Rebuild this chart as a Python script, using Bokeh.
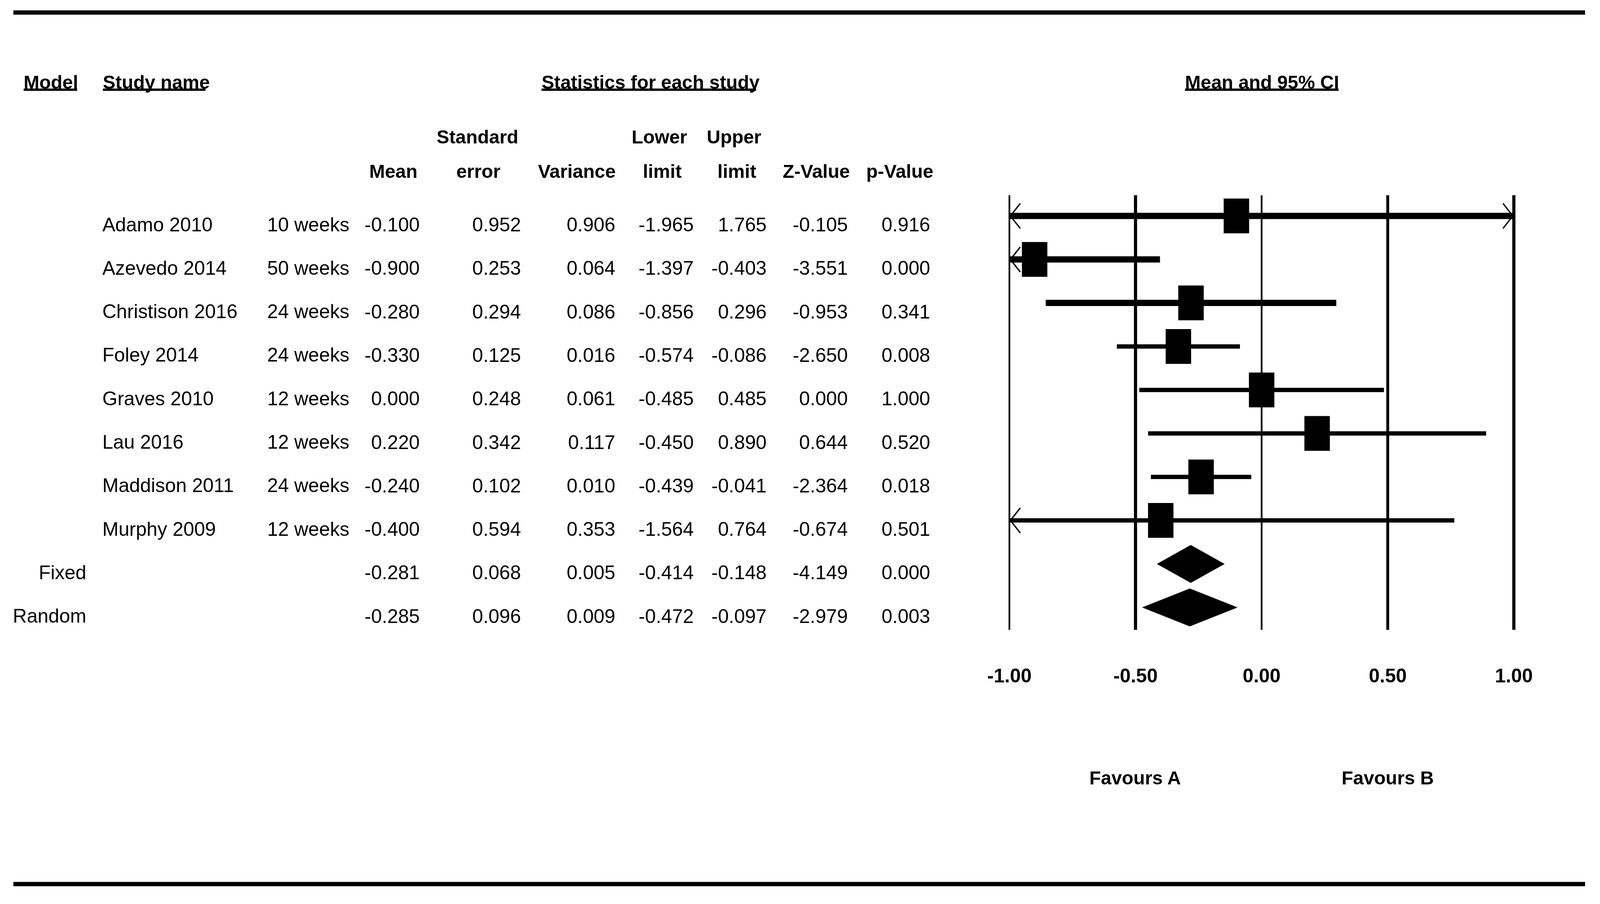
from bokeh.plotting import figure
from bokeh.models import Range1d
from bokeh.core.properties import value
from bokeh.embed import file_html
from bokeh.resources import INLINE

# ---------------- data ----------------
studies = ["Adamo 2010", "Azevedo 2014", "Christison 2016", "Foley 2014",
           "Graves 2010", "Lau 2016", "Maddison 2011", "Murphy 2009"]
durations = ["10 weeks", "50 weeks", "24 weeks", "24 weeks",
             "12 weeks", "12 weeks", "24 weeks", "12 weeks"]
means = [-0.100, -0.900, -0.280, -0.330, 0.000, 0.220, -0.240, -0.400]
std_errs = [0.952, 0.253, 0.294, 0.125, 0.248, 0.342, 0.102, 0.594]
variances = [0.906, 0.064, 0.086, 0.016, 0.061, 0.117, 0.010, 0.353]
lowers = [-1.965, -1.397, -0.856, -0.574, -0.485, -0.450, -0.439, -1.564]
uppers = [1.765, -0.403, 0.296, -0.086, 0.485, 0.890, -0.041, 0.764]
z_values = [-0.105, -3.551, -0.953, -2.650, 0.000, 0.644, -2.364, -0.674]
p_values = [0.916, 0.000, 0.341, 0.008, 1.000, 0.520, 0.018, 0.501]

models = ["Fixed", "Random"]
pooled_means = [-0.281, -0.285]
pooled_se = [0.068, 0.096]
pooled_var = [0.005, 0.009]
pooled_lower = [-0.414, -0.472]
pooled_upper = [-0.148, -0.097]
pooled_z = [-4.149, -2.979]
pooled_p = [0.000, 0.003]

ticks = [-1.0, -0.5, 0.0, 0.5, 1.0]
favours = ["Favours A", "Favours B"]
favours_at = [-0.5, 0.5]

# ---------------- layout ----------------
# Layout constants are in reference-image pixels (5595 x 2313).  The browser
# viewport is 4096 x 2313, so horizontal sizes are scaled by KX.
KX = 4096.0 / 5595.0
KY = 1.0
W, H = 4078, 2295

X0, SX = 4422.0, 882.0      # ref x of effect 0, ref px per unit
Y0, SY = 560.0, 111.3       # ref y of first row, ref px per row


def hx(px):
    return (px - X0) / SX


def vy(py):
    return (py - Y0) / SY


def fs(v):
    return value("%.1fpx" % v)


FONT = value("Liberation Sans")
REG = 68 * KX
BOLD = 66 * KX

p = figure(width=W, height=H, output_backend="svg", toolbar_location=None,
           x_range=Range1d(hx(8 / KX), hx((8 + W) / KX)),
           y_range=Range1d(vy((8 + H) / KY), vy(8 / KY)),
           x_axis_type=None, y_axis_type=None, min_border=0,
           outline_line_color=None, background_fill_color="white",
           border_fill_color="white")
p.xgrid.visible = False
p.ygrid.visible = False


def txt(xs, ys, texts, align="left", bold=False, size=REG):
    p.text(x=xs, y=ys, text=texts, text_align=align, text_baseline="alphabetic",
           text_font=FONT, text_font_size=fs(size),
           text_font_style="bold" if bold else "normal", text_color="black")


def hline(x0px, x1px, ypx, w):
    p.segment(x0=[hx(x0px)], y0=[vy(ypx)], x1=[hx(x1px)], y1=[vy(ypx)],
              line_color="black", line_width=w * KY)


# rules
hline(57, 5553, 39.5, 11)
hline(57, 5553, 2269.5, 11)

for label, left, right in [("Model", 93, 280), ("Study name", 370, 729),
                           ("Statistics for each study", 1904, 2654),
                           ("Mean and 95% CI", 4154, 4691)]:
    txt([hx(left)], [vy(217)], [label], bold=True, size=BOLD)
    hline(left, right, 237, 6)

col_heads = [
    ("Standard", 1680, 357, "center"), ("error", 1683, 445, "center"),
    ("Mean", 1470, 445, "right"), ("Variance", 2163, 445, "right"),
    ("Lower", 2316, 357, "center"), ("limit", 2326, 445, "center"),
    ("Upper", 2577, 357, "center"), ("limit", 2587, 445, "center"),
    ("Z-Value", 2982, 445, "right"), ("p-Value", 3274, 445, "right"),
]
for label, xpx, ypx, al in col_heads:
    txt([hx(xpx)], [vy(ypx)], [label], align=al, bold=True, size=BOLD)

n = len(studies)
rows = list(range(n))
prow = [n + i for i in range(len(models))]
base = 22.0 / SY


def fmt(vals):
    return ["%.3f" % v for v in vals]


txt([hx(368)] * n, [r + base for r in rows], studies, "left")
txt([hx(1232)] * n, [r + base for r in rows], durations, "right")
txt([hx(312)] * len(models), [r + base for r in prow], models, "right")

columns = [(1478, means, pooled_means), (1832, std_errs, pooled_se),
           (2162, variances, pooled_var), (2436, lowers, pooled_lower),
           (2691, uppers, pooled_upper), (2975, z_values, pooled_z),
           (3263, p_values, pooled_p)]
all_rows = rows + prow
for xpx, vals, pvals in columns:
    txt([hx(xpx)] * len(all_rows), [r + base for r in all_rows],
        fmt(list(vals) + list(pvals)), "right")

# ---------------- forest plot ----------------
lo_lim, hi_lim = ticks[0], ticks[-1]
tick_widths = [w * KX for w in [6, 11, 6, 10, 11]]
p.segment(x0=ticks, y0=[vy(507)] * len(ticks), x1=ticks, y1=[vy(1619)] * len(ticks),
          line_color="black", line_width=tick_widths)

ci_widths = [w * KY for w in [16, 16, 16, 11, 11, 11, 11, 11]]
clo = [max(v, lo_lim) for v in lowers]
chi = [min(v, hi_lim) for v in uppers]
p.segment(x0=clo, y0=rows, x1=chi, y1=rows, line_color="black", line_width=ci_widths)

adx, ady = 38.0 / SX, 32.0 / SY
axs, ays = [], []
for r, lo, hi in zip(rows, lowers, uppers):
    if lo < lo_lim:
        axs.append([lo_lim + adx, lo_lim + 0.004, lo_lim + adx])
        ays.append([r - ady, r, r + ady])
    if hi > hi_lim:
        axs.append([hi_lim - adx, hi_lim - 0.004, hi_lim - adx])
        ays.append([r - ady, r, r + ady])
p.multi_line(xs=axs, ys=ays, line_color="black", line_width=3.5)

p.rect(x=means, y=rows, width=89 * KX, height=89 * KY, width_units="screen",
       height_units="screen", fill_color="black", line_color=None)

dh = 48.0 / SY
dxs = [[lo, m, hi, m] for lo, m, hi in zip(pooled_lower, pooled_means, pooled_upper)]
dys = [[r, r - dh, r, r + dh] for r in prow]
p.patches(xs=dxs, ys=dys, fill_color="black", line_color="black", line_width=1)

txt(ticks, [vy(1736)] * len(ticks), ["%.2f" % t for t in ticks], "center", True, REG)
txt(favours_at, [vy(1997)] * 2, favours, "center", True, BOLD)

open("out.html", "w").write(file_html(p, INLINE))
